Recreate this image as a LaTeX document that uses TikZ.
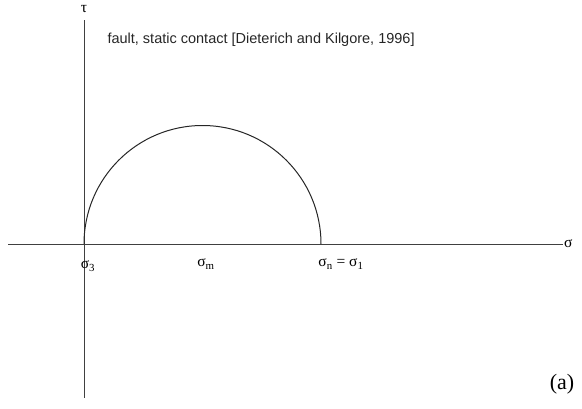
\documentclass[tikz,border=0pt]{standalone}
\usepackage{fontspec}
\setsansfont{Liberation Sans}
\setmainfont{Liberation Serif}
\usepackage{amsmath}
\usetikzlibrary{positioning}

\begin{document}
\begin{tikzpicture}[x=1pt,y=-1pt,font=\fontsize{15.5}{18}\selectfont,
  axis/.style={line width=1pt,black!75},
  mohr/.style={line width=1pt,black!85}]
\useasboundingbox (0,0) rectangle (582,408);
% axes
\coordinate (O) at (84,244);
\coordinate (xl) at (8,244);
\coordinate (xr) at (563,244);
\coordinate (yt) at (84,20);
\coordinate (yb) at (84,398);
\draw[axis] (xl) -- (xr);
\draw[axis] (yt) -- (yb);
\node (tau) at (84,9) {τ};
\node[right=0pt of xr,inner sep=1pt] (sig) {σ};
% circle
\draw[mohr] (O) arc[start angle=180,end angle=360,radius=118.5] coordinate (s1);
\node (s3) at (88,266) {σ\textsubscript{3}};
\node (sm) at (206,264) {σ\textsubscript{m}};
\node (sn) at (341,264) {σ\textsubscript{n} = σ\textsubscript{1}};
\node[anchor=west,black!85,font=\sffamily\fontsize{14.5}{17}\selectfont] (src) at (104,40) {fault, static contact [Dieterich and Kilgore, 1996]};
\node[font=\fontsize{22}{26}\selectfont] (lab) at (562,384) {(a)};
\end{tikzpicture}
\end{document}
